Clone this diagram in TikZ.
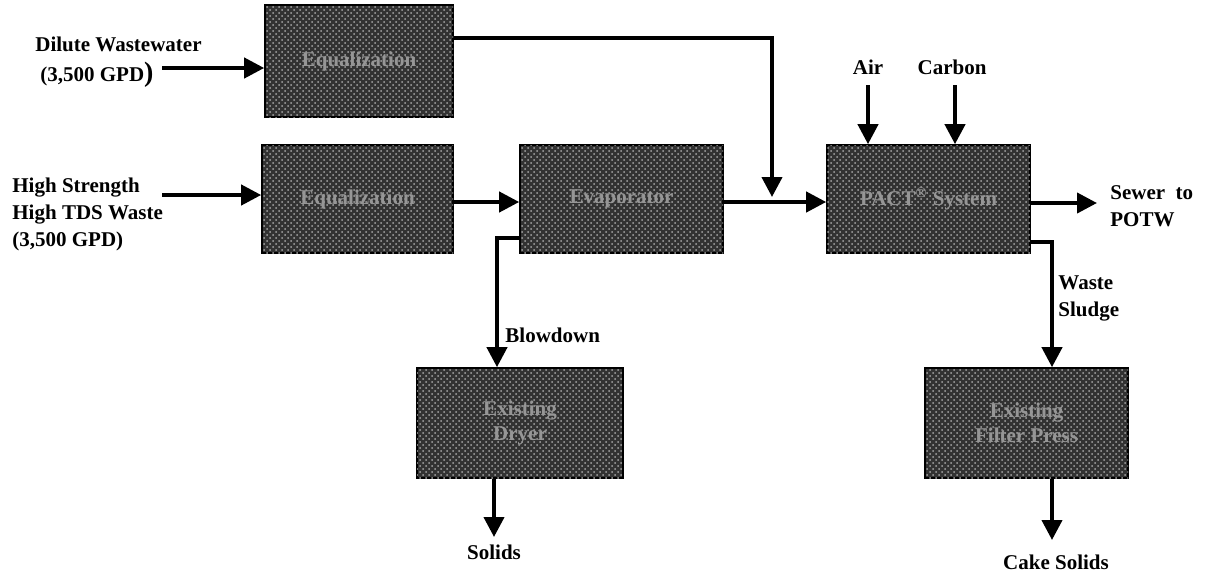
\documentclass[tikz,border=0pt]{standalone}
\usepackage{fontspec}
\setmainfont{Liberation Serif}
\usetikzlibrary{arrows.meta,patterns}
\definecolor{boxfill}{RGB}{50,50,50}
\definecolor{boxtext}{RGB}{150,150,150}
\tikzset{
  procbox/.style={draw=black, line width=0.8pt, fill=boxfill,
    postaction={pattern=crosshatch dots, pattern color=gray!70},
    text=boxtext, font=\bfseries\fontsize{10.5}{12.5}\selectfont, align=center,
    inner sep=0pt},
  flow/.style={line width=2pt, -{Triangle[length=10pt,width=10pt]}},
  lbl/.style={font=\bfseries\fontsize{10.5}{13.5}\selectfont, inner sep=0pt, align=left}
}
\begin{document}
\begin{tikzpicture}[x=0.5pt,y=-0.5pt]
\useasboundingbox (0,0) rectangle (1205,574);
% process boxes
\node[procbox, minimum width=94pt, minimum height=56pt] (eqA) at (359,61) {Equalization};
\node[procbox, minimum width=95.5pt, minimum height=54pt] (eqB) at (357.5,199) {Equalization};
\node[procbox, minimum width=101.5pt, minimum height=54pt] (evap) at (621.5,199) {Evaporator};
\node[procbox, minimum width=101.5pt, minimum height=54pt] (pact) at (928.5,199) {PACT\textsuperscript{\textregistered} System};
\node[procbox, minimum width=103pt, minimum height=55pt] (dryer) at (520,423) {Existing\\Dryer};
\node[procbox, minimum width=101.5pt, minimum height=55pt] (press) at (1026.5,423) {Existing\\Filter Press};

% labels
\node[lbl, anchor=west] (dilute) at (35,44) {Dilute Wastewater};
\node[lbl, anchor=west] (dgpd) at (40,75) {(3,500 GPD\fontsize{14}{14}\selectfont)};
\node[lbl, anchor=west] (high) at (12,214) {High Strength\\High TDS Waste\\(3,500 GPD)};
\node[lbl] (air) at (868,67) {Air};
\node[lbl] (carbon) at (952,67) {Carbon};
\node[lbl, anchor=west] (sewer) at (1110,206) {Sewer\ \ to\\POTW};
\node[lbl, anchor=west] (blow) at (505,335) {Blowdown};
\node[lbl, anchor=west] (sludge) at (1058,298) {Waste\\Sludge};
\node[lbl] (solids) at (494,552) {Solids};
\node[lbl] (cake) at (1056,562) {Cake Solids};

% coordinates
\coordinate (dIn) at (162,68);
\coordinate (hIn) at (162,195);
\coordinate (topC) at (772,38);
\coordinate (join) at (772,197);
\coordinate (airS) at (868,85);
\coordinate (carS) at (955,85);
\coordinate (sewE) at (1097,203);
\coordinate (bdC) at (497,238);
\coordinate (slC) at (1052,242);
\coordinate (solE) at (494,537);
\coordinate (cakE) at (1052,540);

% connectors
\draw[flow] (dIn) -- (dIn -| eqA.west);
\draw[flow] (hIn) -- (hIn -| eqB.west);
\draw[flow] (eqB.east |- 0,202) -- (evap.west |- 0,202);
\draw[flow] (evap.east |- 0,202) -- (pact.west |- 0,202);
\draw[flow] (eqA.east |- topC) -- (topC) -- (join);
\draw[flow] (airS) -- (airS |- pact.north);
\draw[flow] (carS) -- (carS |- pact.north);
\draw[flow] (pact.east |- sewE) -- (sewE);
\draw[flow] (evap.west |- bdC) -- (bdC) -- (bdC |- dryer.north);
\draw[flow] (pact.east |- slC) -- (slC) -- (slC |- press.north);
\draw[flow] (solE |- dryer.south) -- (solE);
\draw[flow] (cakE |- press.south) -- (cakE);
\end{tikzpicture}
\end{document}
